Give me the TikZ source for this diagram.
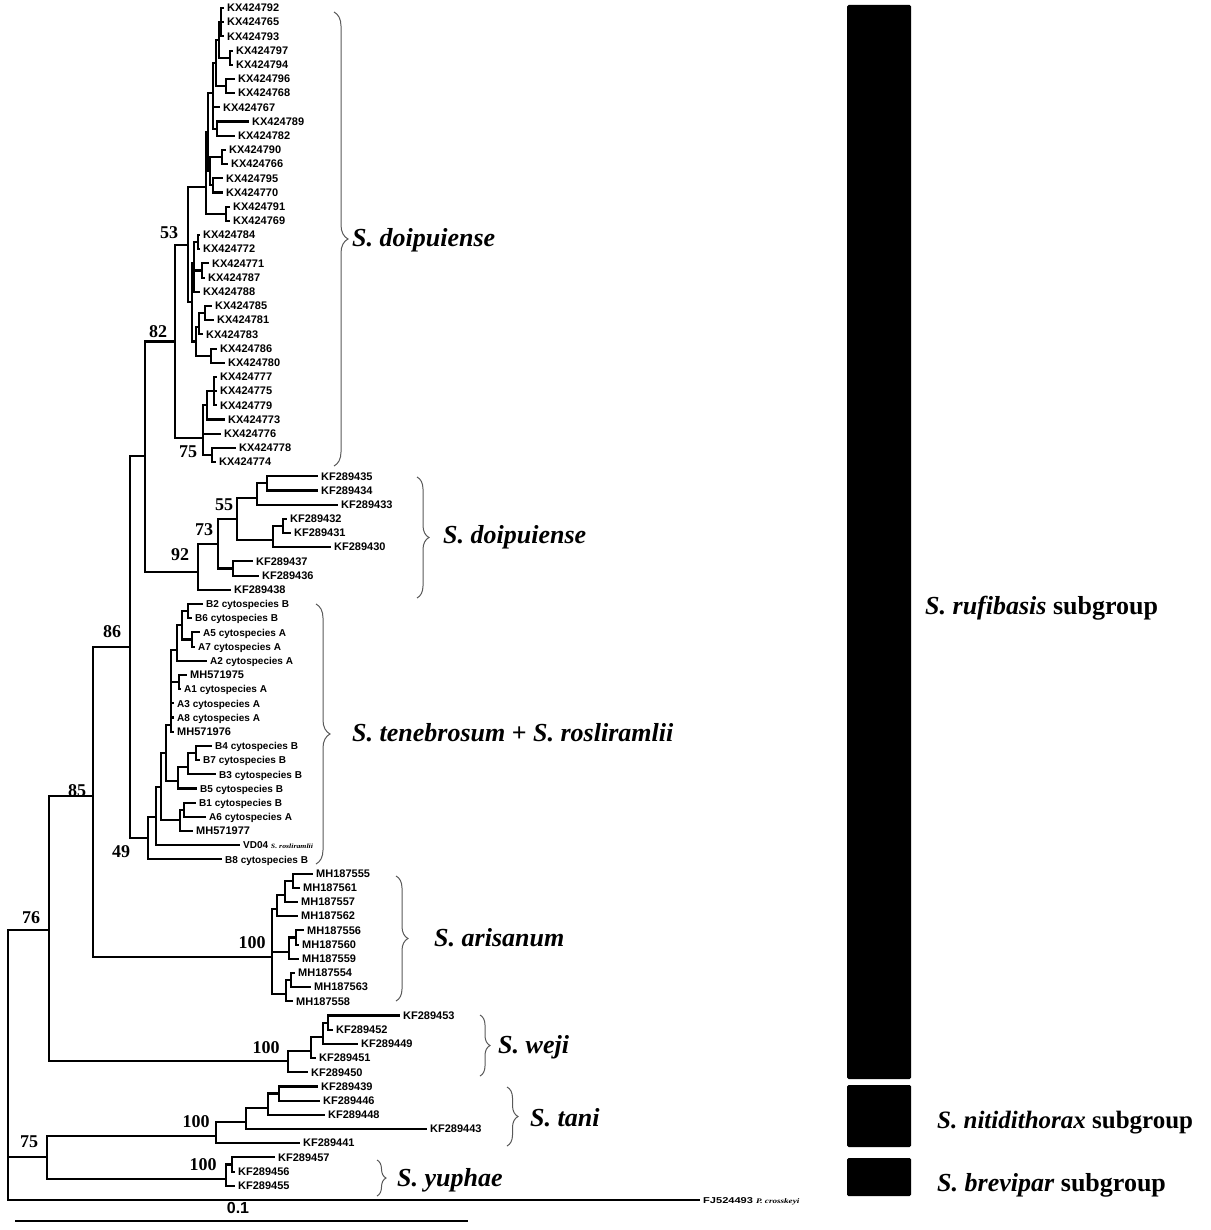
\documentclass[tikz,border=0pt]{standalone}
\usepackage{fontspec}
\usepackage{graphicx}
\setmainfont{Liberation Serif}
\newfontfamily\lsans{Liberation Sans}
\usetikzlibrary{decorations.pathreplacing}
\newcommand\Lf[4]{\coordinate (#1) at (#2,{8+14.19*#3}); \node[lf] (#1t) at (#1) {#4};}
\newcommand\In[3]{\coordinate (#1) at (#2,{8+14.19*#3});}
\newcommand\Ed[2]{\draw[br] (#1) |- (#2);}
\newcommand\cs{\fontsize{10}{11}\selectfont}
\tikzset{
  br/.style={line width=2.1pt},
  lf/.style={anchor=west, font=\lsans\bfseries\fontsize{11}{12}\selectfont, inner xsep=3pt, inner ysep=0pt, text height=7.5pt, text depth=0pt},
  bs/.style={font=\bfseries\fontsize{18}{20}\selectfont, inner sep=0pt},
  sp/.style={anchor=west, font=\bfseries\itshape\fontsize{26}{28}\selectfont, inner sep=0pt},
  brc/.style={decorate, decoration={brace, amplitude=#1}, draw=black!65, line width=1pt},
  brc/.default=10pt,
  bar/.style={fill=black, rounded corners=1.5pt}
}
\begin{document}
\begin{tikzpicture}[x=1pt,y=-1pt]
\useasboundingbox (0,0) rectangle (1210,1230);
% ---- leaves
\Lf{L0}{224}{0}{KX424792}
\Lf{L1}{224}{1}{KX424765}
\Lf{L2}{224}{2}{KX424793}
\Lf{L3}{233}{3}{KX424797}
\Lf{L4}{233}{4}{KX424794}
\Lf{L5}{235}{5}{KX424796}
\Lf{L6}{235}{6}{KX424768}
\Lf{L7}{220}{7}{KX424767}
\Lf{L8}{249}{8}{KX424789}
\Lf{L9}{235}{9}{KX424782}
\Lf{L10}{226}{10}{KX424790}
\Lf{L11}{228}{11}{KX424766}
\Lf{L12}{223}{12}{KX424795}
\Lf{L13}{223}{13}{KX424770}
\Lf{L14}{230}{14}{KX424791}
\Lf{L15}{230}{15}{KX424769}
\Lf{L16}{200}{16}{KX424784}
\Lf{L17}{200}{17}{KX424772}
\Lf{L18}{209}{18}{KX424771}
\Lf{L19}{205}{19}{KX424787}
\Lf{L20}{200}{20}{KX424788}
\Lf{L21}{212}{21}{KX424785}
\Lf{L22}{214}{22}{KX424781}
\Lf{L23}{203}{23}{KX424783}
\Lf{L24}{217}{24}{KX424786}
\Lf{L25}{225}{25}{KX424780}
\Lf{L26}{217}{26}{KX424777}
\Lf{L27}{217}{27}{KX424775}
\Lf{L28}{217}{28}{KX424779}
\Lf{L29}{225}{29}{KX424773}
\Lf{L30}{221}{30}{KX424776}
\Lf{L31}{236}{31}{KX424778}
\Lf{L32}{216}{32}{KX424774}
\Lf{L33}{318}{33}{KF289435}
\Lf{L34}{318}{34}{KF289434}
\Lf{L35}{338}{35}{KF289433}
\Lf{L36}{287}{36}{KF289432}
\Lf{L37}{291}{37}{KF289431}
\Lf{L38}{331}{38}{KF289430}
\Lf{L39}{253}{39}{KF289437}
\Lf{L40}{259}{40}{KF289436}
\Lf{L41}{231}{41}{KF289438}
\Lf{L42}{203}{42}{\cs B2 cytospecies B}
\Lf{L43}{192}{43}{\cs B6 cytospecies B}
\Lf{L44}{200}{44}{\cs A5 cytospecies A}
\Lf{L45}{195}{45}{\cs A7 cytospecies A}
\Lf{L46}{207}{46}{\cs A2 cytospecies A}
\Lf{L47}{187}{47}{MH571975}
\Lf{L48}{181}{48}{\cs A1 cytospecies A}
\Lf{L49}{174}{49}{\cs A3 cytospecies A}
\Lf{L50}{174}{50}{\cs A8 cytospecies A}
\Lf{L51}{174}{51}{MH571976}
\Lf{L52}{212}{52}{\cs B4 cytospecies B}
\Lf{L53}{200}{53}{\cs B7 cytospecies B}
\Lf{L54}{216}{54}{\cs B3 cytospecies B}
\Lf{L55}{197}{55}{\cs B5 cytospecies B}
\Lf{L56}{196}{56}{\cs B1 cytospecies B}
\Lf{L57}{206}{57}{\cs A6 cytospecies A}
\Lf{L58}{193}{58}{MH571977}
\Lf{L59}{240}{59}{\cs VD04 \scalebox{1.2}[1]{\rmfamily\itshape\fontsize{6.5}{7}\selectfont S. rosliramlii}}
\Lf{L60}{222}{60}{\cs B8 cytospecies B}
\Lf{L61}{313}{61}{MH187555}
\Lf{L62}{300}{62}{MH187561}
\Lf{L63}{298}{63}{MH187557}
\Lf{L64}{298}{64}{MH187562}
\Lf{L65}{304}{65}{MH187556}
\Lf{L66}{299}{66}{MH187560}
\Lf{L67}{299}{67}{MH187559}
\Lf{L68}{295}{68}{MH187554}
\Lf{L69}{311}{69}{MH187563}
\Lf{L70}{293}{70}{MH187558}
\Lf{L71}{400}{71}{KF289453}
\Lf{L72}{333}{72}{KF289452}
\Lf{L73}{358}{73}{KF289449}
\Lf{L74}{316}{74}{KF289451}
\Lf{L75}{308}{75}{KF289450}
\Lf{L76}{318}{76}{KF289439}
\Lf{L77}{320}{77}{KF289446}
\Lf{L78}{325}{78}{KF289448}
\Lf{L79}{427}{79}{KF289443}
\Lf{L80}{300}{80}{KF289441}
\Lf{L81}{275}{81}{KF289457}
\Lf{L82}{235}{82}{KF289456}
\Lf{L83}{235}{83}{KF289455}
\Lf{L84}{700}{84}{\scalebox{1.3}[1]{\fontsize{8.5}{9}\selectfont FJ524493 {\rmfamily\itshape\fontsize{7}{7}\selectfont P. crosskeyi}}}
% ---- internal nodes
\In{Na1}{221}{1}
\In{N230}{230}{3.5}
\In{Nu2}{219}{2.25}
\In{N226}{226}{5.5}
\In{Nu}{216}{3.9}
\In{N217}{217}{8.5}
\In{Nt1}{213}{6}
\In{N222}{222}{10.5}
\In{N213}{213}{12.5}
\In{Nt2}{210}{11.5}
\In{Nt}{208}{8.75}
\In{N227}{226}{14.5}
\In{N206}{206}{12.6}
\In{N198}{198}{16.5}
\In{N201}{202}{18.5}
\In{Nm1}{194}{18}
\In{N205}{205}{21.5}
\In{N198b}{199}{22.5}
\In{N211}{211}{24.5}
\In{Nm2}{196}{23.5}
\In{Nm}{192}{20.75}
\In{N188}{188}{16.7}
\In{N214}{214}{27}
\In{Nq}{207}{28}
\In{N212}{212}{31.5}
\In{N75}{203}{30.3}
\In{N175}{175}{23.5}
\In{N267}{267}{33.5}
\In{N257}{257}{34.5}
\In{N283}{283}{36.5}
\In{N273}{273}{37.5}
\In{N55}{237}{36}
\In{N233}{233}{39.5}
\In{N73}{218}{37.75}
\In{N92}{198}{39.75}
\In{N145}{145}{31.6}
\In{N188t}{188}{42.5}
\In{N192t}{192}{44.5}
\In{N182}{182}{43.5}
\In{N177}{177}{45.25}
\In{N178}{179}{47.5}
\In{Nk}{171}{50.5}
\In{Nb3}{196}{52.5}
\In{Nb2}{188}{53.5}
\In{Nb}{178}{54.5}
\In{Ne}{166}{52.5}
\In{N184f}{184}{56.5}
\In{Nf}{180}{57.25}
\In{Nd}{161}{54.9}
\In{Nc}{156}{57}
\In{N49}{148}{58.5}
\In{N130}{130}{45}
\In{N293}{293}{61.5}
\In{N285}{285}{62.5}
\In{Nar1}{277}{63.5}
\In{N295}{296}{65.5}
\In{Nar2}{289}{66.5}
\In{N291}{291}{68.5}
\In{Nar3}{286}{69.5}
\In{N100a}{272}{66.9}
\In{N93}{93}{55.5}
\In{N328}{328}{71.5}
\In{Nw2}{323}{72.5}
\In{Nw1}{311}{73.5}
\In{N288}{288}{74.2}
\In{N49r}{49}{65}
\In{N279}{279}{76.5}
\In{Ntn2}{268}{77.5}
\In{Ntn1}{246}{78.5}
\In{N216}{216}{79.5}
\In{N233y}{232}{81.5}
\In{N226y}{226}{82.5}
\In{N47}{47}{81}
\In{Root}{8}{75}
% ---- branches
\Ed{Na1}{L0}\Ed{Na1}{L1}\Ed{Na1}{L2}
\Ed{N230}{L3}\Ed{N230}{L4}
\Ed{Nu2}{Na1}\Ed{Nu2}{N230}
\Ed{N226}{L5}\Ed{N226}{L6}
\Ed{Nu}{Nu2}\Ed{Nu}{N226}
\Ed{N217}{L8}\Ed{N217}{L9}
\Ed{Nt1}{Nu}\Ed{Nt1}{L7}\Ed{Nt1}{N217}
\Ed{N222}{L10}\Ed{N222}{L11}
\Ed{N213}{L12}\Ed{N213}{L13}
\Ed{Nt2}{N222}\Ed{Nt2}{N213}
\Ed{Nt}{Nt1}\Ed{Nt}{Nt2}
\Ed{N227}{L14}\Ed{N227}{L15}
\Ed{N206}{Nt}\Ed{N206}{N227}
\Ed{N198}{L16}\Ed{N198}{L17}
\Ed{N201}{L18}\Ed{N201}{L19}
\Ed{Nm1}{N198}\Ed{Nm1}{N201}\Ed{Nm1}{L20}
\Ed{N205}{L21}\Ed{N205}{L22}
\Ed{N198b}{N205}\Ed{N198b}{L23}
\Ed{N211}{L24}\Ed{N211}{L25}
\Ed{Nm2}{N198b}\Ed{Nm2}{N211}
\Ed{Nm}{Nm1}\Ed{Nm}{Nm2}
\Ed{N188}{N206}\Ed{N188}{Nm}
\Ed{N214}{L26}\Ed{N214}{L27}\Ed{N214}{L28}
\Ed{Nq}{N214}\Ed{Nq}{L29}
\Ed{N212}{L31}\Ed{N212}{L32}
\Ed{N75}{Nq}\Ed{N75}{L30}\Ed{N75}{N212}
\Ed{N175}{N188}\Ed{N175}{N75}
\Ed{N267}{L33}\Ed{N267}{L34}
\Ed{N257}{N267}\Ed{N257}{L35}
\Ed{N283}{L36}\Ed{N283}{L37}
\Ed{N273}{N283}\Ed{N273}{L38}
\Ed{N55}{N257}\Ed{N55}{N273}
\Ed{N233}{L39}\Ed{N233}{L40}
\Ed{N73}{N55}\Ed{N73}{N233}
\Ed{N92}{N73}\Ed{N92}{L41}
\Ed{N145}{N175}\Ed{N145}{N92}
\Ed{N188t}{L42}\Ed{N188t}{L43}
\Ed{N192t}{L44}\Ed{N192t}{L45}
\Ed{N182}{N188t}\Ed{N182}{N192t}
\Ed{N177}{N182}\Ed{N177}{L46}
\Ed{N178}{L47}\Ed{N178}{L48}
\Ed{Nk}{N177}\Ed{Nk}{N178}\Ed{Nk}{L49}\Ed{Nk}{L50}\Ed{Nk}{L51}
\Ed{Nb3}{L52}\Ed{Nb3}{L53}
\Ed{Nb2}{Nb3}\Ed{Nb2}{L54}
\Ed{Nb}{Nb2}\Ed{Nb}{L55}
\Ed{Ne}{Nk}\Ed{Ne}{Nb}
\Ed{N184f}{L56}\Ed{N184f}{L57}
\Ed{Nf}{N184f}\Ed{Nf}{L58}
\Ed{Nd}{Ne}\Ed{Nd}{Nf}
\Ed{Nc}{Nd}\Ed{Nc}{L59}
\Ed{N49}{Nc}\Ed{N49}{L60}
\Ed{N130}{N145}\Ed{N130}{N49}
\Ed{N293}{L61}\Ed{N293}{L62}
\Ed{N285}{N293}\Ed{N285}{L63}
\Ed{Nar1}{N285}\Ed{Nar1}{L64}
\Ed{N295}{L65}\Ed{N295}{L66}
\Ed{Nar2}{N295}\Ed{Nar2}{L67}
\Ed{N291}{L68}\Ed{N291}{L69}
\Ed{Nar3}{N291}\Ed{Nar3}{L70}
\Ed{N100a}{Nar1}\Ed{N100a}{Nar2}\Ed{N100a}{Nar3}
\Ed{N93}{N130}\Ed{N93}{N100a}
\Ed{N328}{L71}\Ed{N328}{L72}
\Ed{Nw2}{N328}\Ed{Nw2}{L73}
\Ed{Nw1}{Nw2}\Ed{Nw1}{L74}
\Ed{N288}{Nw1}\Ed{N288}{L75}
\Ed{N49r}{N93}\Ed{N49r}{N288}
\Ed{N279}{L76}\Ed{N279}{L77}
\Ed{Ntn2}{N279}\Ed{Ntn2}{L78}
\Ed{Ntn1}{Ntn2}\Ed{Ntn1}{L79}
\Ed{N216}{Ntn1}\Ed{N216}{L80}
\Ed{N233y}{L81}\Ed{N233y}{L82}
\Ed{N226y}{N233y}\Ed{N226y}{L83}
\Ed{N47}{N216}\Ed{N47}{N226y}
\Ed{Root}{N49r}\Ed{Root}{N47}\Ed{Root}{L84}
% ---- bootstrap values
\node[bs] (b53) at (169,233) {53};
\node[bs] (b82) at (158,332) {82};
\node[bs] (b75a) at (188,452) {75};
\node[bs] (b55) at (224,505) {55};
\node[bs] (b73) at (204,530) {73};
\node[bs] (b92) at (180,555) {92};
\node[bs] (b86) at (112,632) {86};
\node[bs] (b49) at (121,852) {49};
\node[bs] (b85) at (77,791) {85};
\node[bs] (b100a) at (252,943) {100};
\node[bs] (b76) at (31,918) {76};
\node[bs] (b100w) at (266,1048) {100};
\node[bs] (b100t) at (196,1122) {100};
\node[bs] (b75b) at (29,1142) {75};
\node[bs] (b100y) at (203,1165) {100};
% ---- braces
\coordinate (c1a) at (334,12);   \coordinate (c1b) at (334,466);
\coordinate (c2a) at (417,477);  \coordinate (c2b) at (417,598);
\coordinate (c3a) at (316,604);  \coordinate (c3b) at (316,864);
\coordinate (c4a) at (396,876);  \coordinate (c4b) at (396,1001);
\coordinate (c5a) at (480,1015); \coordinate (c5b) at (480,1076);
\coordinate (c6a) at (507,1087); \coordinate (c6b) at (507,1146);
\coordinate (c7a) at (377,1160); \coordinate (c7b) at (377,1196);
\draw[brc=14pt] (c1a) -- (c1b);
\draw[brc=12pt] (c2a) -- (c2b);
\draw[brc=14pt] (c3a) -- (c3b);
\draw[brc=12pt] (c4a) -- (c4b);
\draw[brc=10pt] (c5a) -- (c5b);
\draw[brc=11pt] (c6a) -- (c6b);
\draw[brc=9pt] (c7a) -- (c7b);
\node[sp] (s1) at (352,240) {S. doipuiense};
\node[sp] (s2) at (443,537) {S. doipuiense};
\node[sp] (s3) at (352,733) {S. tenebrosum \textup{+} S. rosliramlii};
\node[sp] (s4) at (434,938) {S. arisanum};
\node[sp] (s5) at (498,1047) {S. weji};
\node[sp] (s6) at (530,1118) {S. tani};
\node[sp] (s7) at (397,1180) {S. yuphae};
% ---- subgroup bars
\fill[bar] (847,5) rectangle (911,1079);
\fill[bar] (847,1085) rectangle (911,1147);
\fill[bar] (847,1158) rectangle (911,1196);
\node[sp] (g1) at (925,608) {S. rufibasis \textup{subgroup}};
\node[sp, font=\bfseries\itshape\fontsize{25}{27}\selectfont] (g2) at (937,1123) {S. nitidithorax \textup{subgroup}};
\node[sp] (g3) at (937,1185) {S. brevipar \textup{subgroup}};
% ---- scale bar
\coordinate (sb1) at (15,1221); \coordinate (sb2) at (468,1221);
\draw[line width=2.5pt] (sb1) -- (sb2);
\node[font=\lsans\bfseries\fontsize{16}{17}\selectfont, inner sep=0pt] (sc) at (238,1208) {0.1};
\end{tikzpicture}
\end{document}
